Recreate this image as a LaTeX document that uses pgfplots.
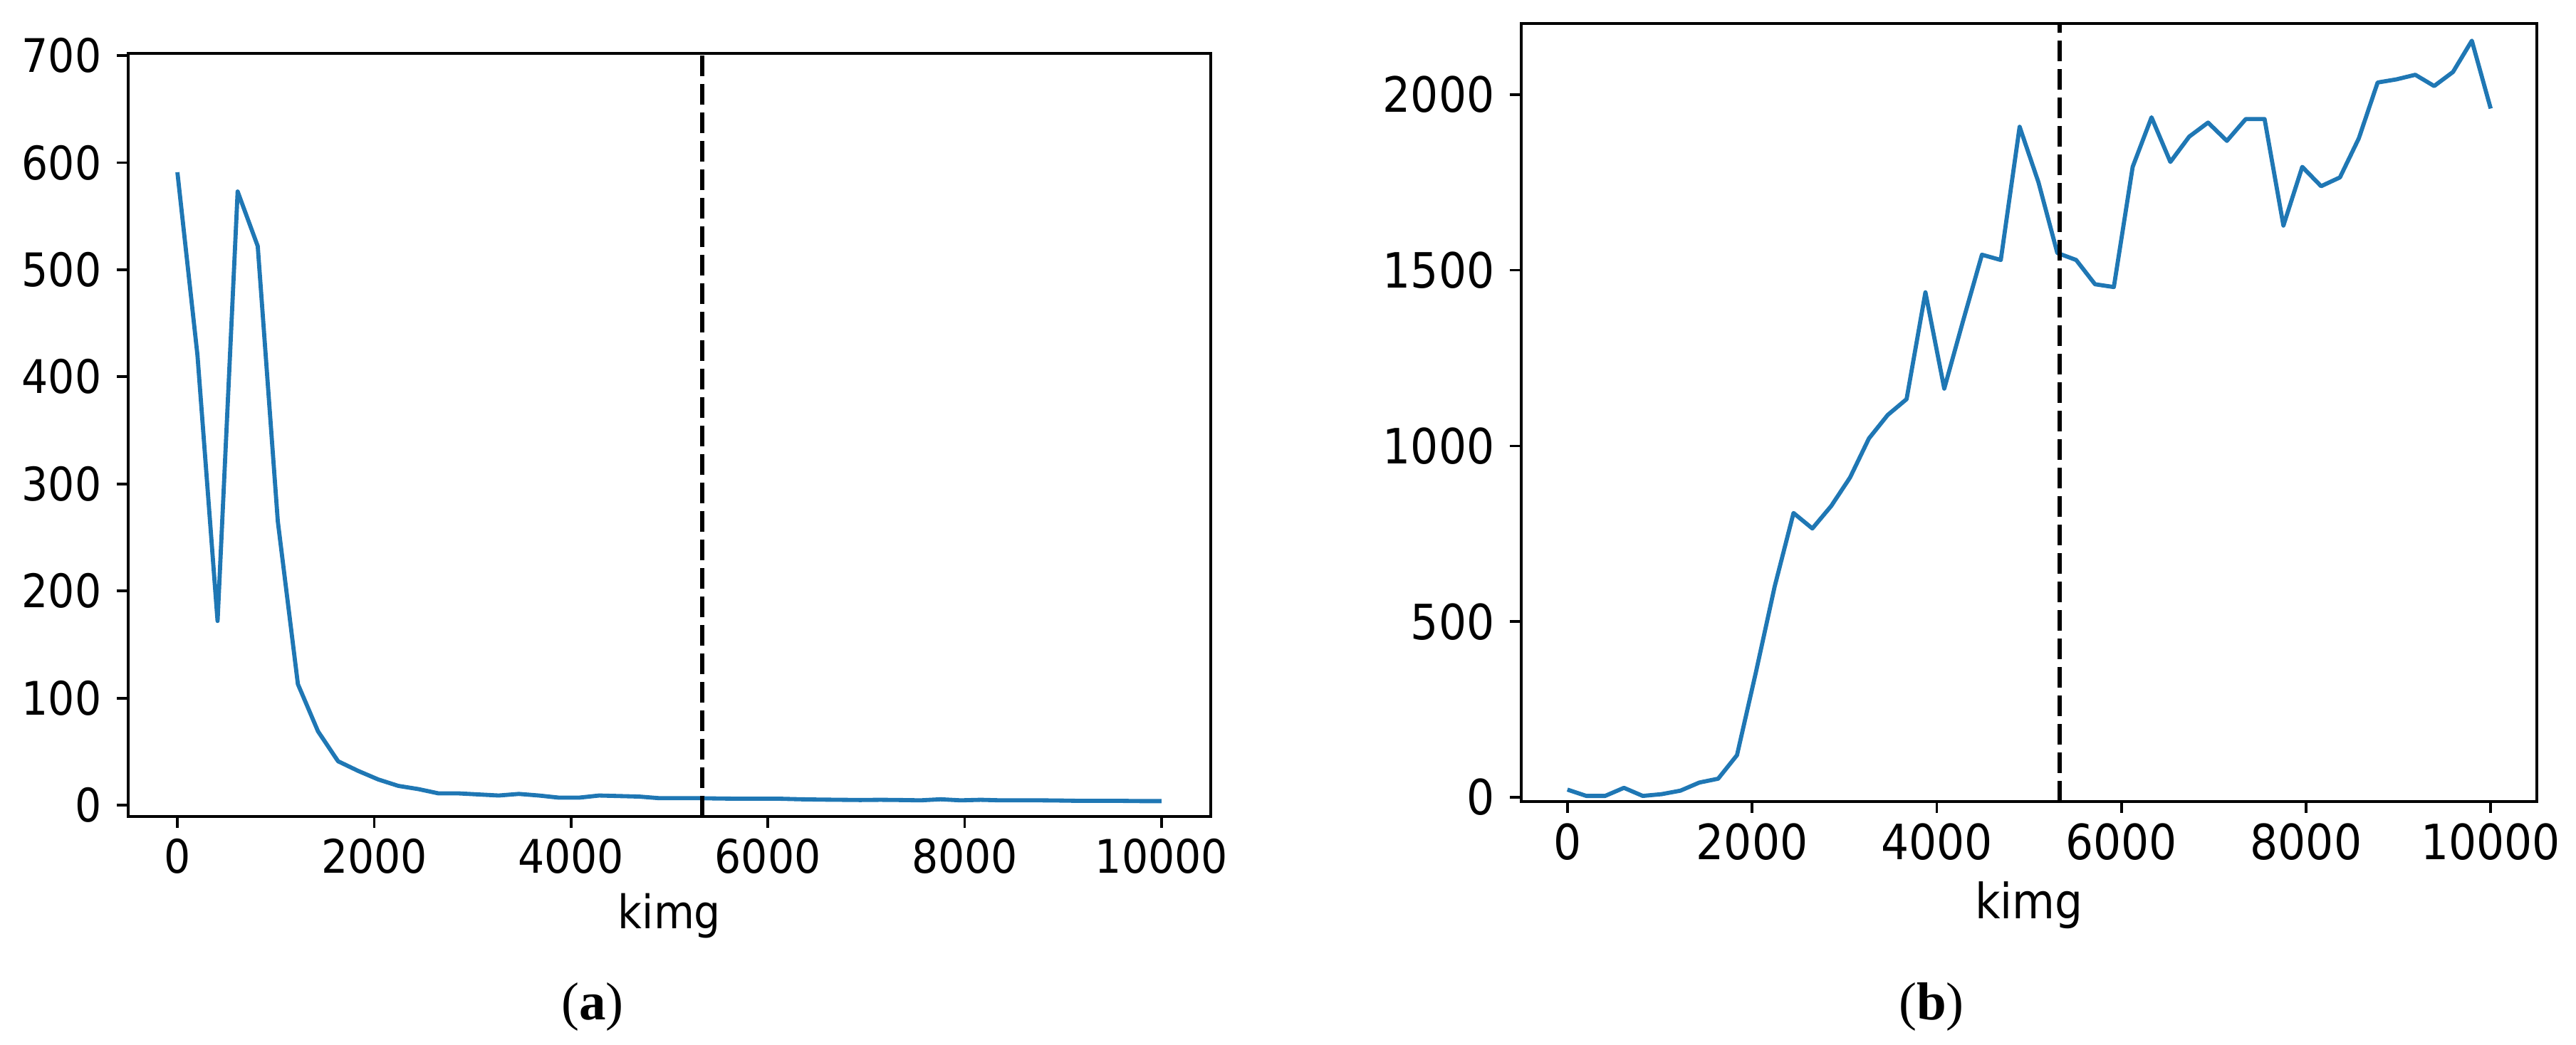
\documentclass[border=0pt]{standalone}
\usepackage{fontspec}
\setmainfont{DejaVu Sans}[FakeStretch=0.9]
\newfontfamily\capfont{Liberation Serif}
\usepackage{pgfplots}
\pgfplotsset{compat=1.18}

\definecolor{mplblue}{HTML}{1F77B4}

\pgfplotsset{
  kimgaxis/.style={
    scale only axis,
    xmin=-500, xmax=10500,
    xtick={0,2000,...,10000},
    tick align=outside,
    tick pos=left,
    major tick length=1.92pt,
    major tick style={black, line width=0.45pt},
    axis line style={line width=0.5pt},
    scaled ticks=false,
    /pgf/number format/1000 sep={},
    /pgf/number format/assume math mode=true,
    tick label style={inner sep=0pt},
    xticklabel style={anchor=north, yshift=-1.6pt},
    yticklabel style={anchor=east, xshift=-2.4pt},
    label style={inner sep=0pt},
    xlabel={kimg},
  },
  vline/.style={black, line width=0.7pt, dash pattern=on 3.5pt off 1.3pt},
  curve/.style={mplblue, line width=0.7pt, line join=round},
}

\begin{document}
\begin{tikzpicture}
\path[use as bounding box] (0,0) rectangle (434.04pt,-176.16pt);

% (a)
\begin{axis}[kimgaxis,
    at={(21.6pt,-9pt)}, anchor=north west,
    width=182.4pt, height=128.64pt,
    ymin=-10.6, ymax=702,
    ytick={0,100,...,700},
    tick label style={font=\fontsize{7.8}{9}\selectfont},
    label style={font=\fontsize{7.8}{9}\selectfont},
    xlabel style={at={(axis description cs:0.5,0)}, anchor=north, yshift=-12.72pt}]
\addplot[curve] table {
x y
0 591
204.08 420
408.16 172
612.24 573
816.33 522
1020.41 265
1224.49 113
1428.57 69
1632.65 41
1836.73 32
2040.82 24
2244.90 18
2448.98 15
2653.06 11
2857.14 11
3061.22 10
3265.31 9
3469.39 10.5
3673.47 9
3877.55 7
4081.63 7
4285.71 9
4489.80 8.5
4693.88 8
4897.96 6.5
5102.04 6.5
5306.12 6.5
5510.20 6.2
5714.29 6
5918.37 6
6122.45 6
6326.53 5.5
6530.61 5.2
6734.69 5
6938.78 4.8
7142.86 5
7346.94 4.8
7551.02 4.5
7755.10 5.5
7959.18 4.5
8163.27 5
8367.35 4.5
8571.43 4.5
8775.51 4.5
8979.59 4.3
9183.67 4
9387.76 4
9591.84 4
9795.92 3.8
10000 3.8
};
\addplot[vline] coordinates {(5334,-10.6) (5334,702)};
\end{axis}

% (b)
\begin{axis}[kimgaxis,
    at={(256.32pt,-3.96pt)}, anchor=north west,
    width=171.12pt, height=131.16pt,
    ymin=-12, ymax=2202,
    ytick={0,500,...,2000},
    tick label style={font=\fontsize{8.2}{9.5}\selectfont},
    label style={font=\fontsize{8.2}{9.5}\selectfont},
    xlabel style={at={(axis description cs:0.5,0)}, anchor=north, yshift=-13.3pt}]
\addplot[curve] table {
x y
0 22
204.08 4
408.16 4
612.24 27
816.33 4
1020.41 9
1224.49 19
1428.57 42
1632.65 53
1836.73 120
2040.82 355
2244.90 600
2448.98 809
2653.06 765
2857.14 829
3061.22 910
3265.31 1021
3469.39 1088
3673.47 1133
3877.55 1437
4081.63 1163
4285.71 1356
4489.80 1544
4693.88 1529
4897.96 1908
5102.04 1750
5306.12 1549
5510.20 1529
5714.29 1460
5918.37 1452
6122.45 1794
6326.53 1935
6530.61 1808
6734.69 1880
6938.78 1920
7142.86 1868
7346.94 1930
7551.02 1930
7755.10 1627
7959.18 1794
8163.27 1739
8367.35 1764
8571.43 1875
8775.51 2034
8979.59 2043
9183.67 2056
9387.76 2024
9591.84 2064
9795.92 2153
10000 1960
};
\addplot[vline] coordinates {(5334,-12) (5334,2202)};
\end{axis}

\node[anchor=base, font=\capfont\fontsize{9}{11}\selectfont] at (99.84pt,-171.96pt) {(\textbf{a})};
\node[anchor=base, font=\capfont\fontsize{9}{11}\selectfont] at (325.44pt,-171.96pt) {(\textbf{b})};
\end{tikzpicture}
\end{document}
